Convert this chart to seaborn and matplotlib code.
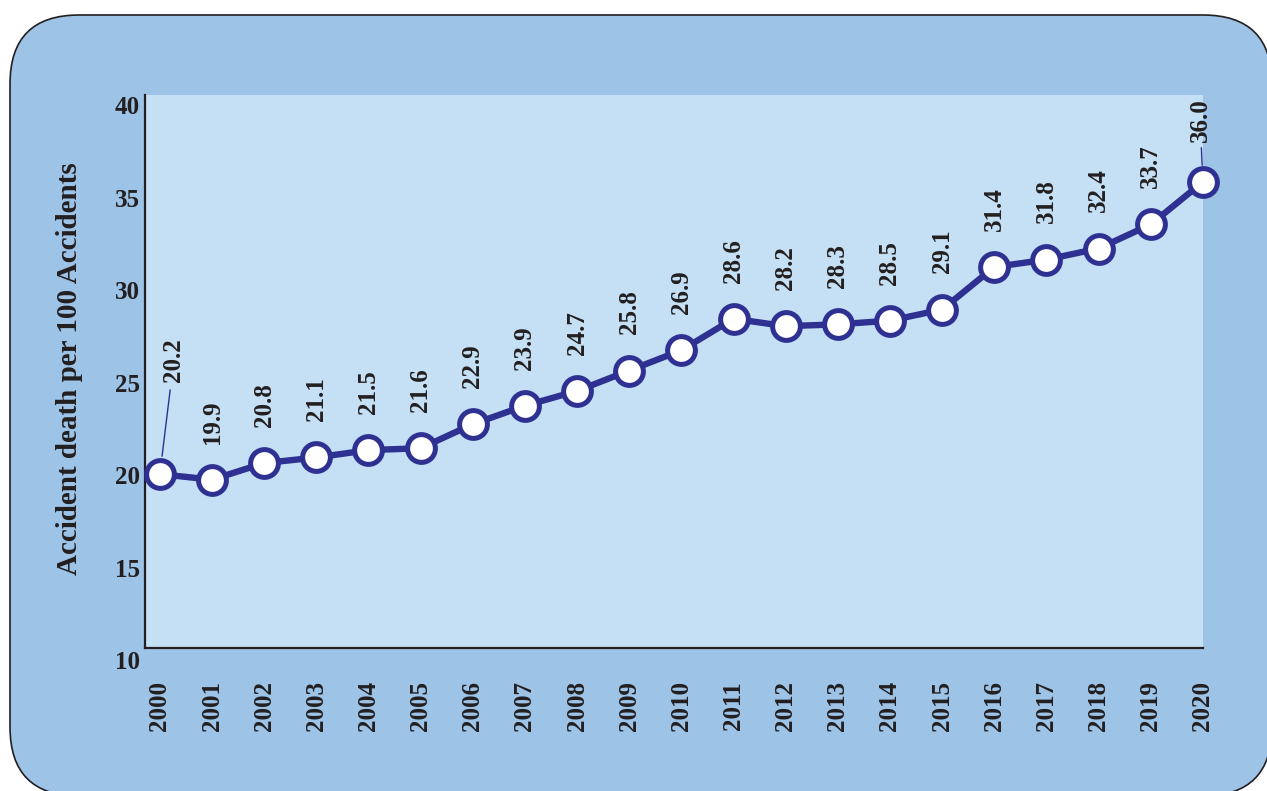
import matplotlib
matplotlib.use("Agg")
import matplotlib.pyplot as plt
import matplotlib.transforms as mtransforms
import pandas as pd
import seaborn as sns
from matplotlib.patches import FancyBboxPatch

years = list(range(2000, 2021))
deaths_per_100 = [20.2, 19.9, 20.8, 21.1, 21.5, 21.6, 22.9, 23.9, 24.7, 25.8, 26.9,
                  28.6, 28.2, 28.3, 28.5, 29.1, 31.4, 31.8, 32.4, 33.7, 36.0]
y_ticks = [10, 15, 20, 25, 30, 35, 40]
y_title = "Accident death per 100 Accidents"

OUTER_BG = "#9DC3E7"
PLOT_BG = "#C5E0F4"
LINE_COLOR = "#2E3192"
INK = "#231F20"


def main():
    sns.set_style("white")
    plt.rcParams["font.family"] = ["Liberation Serif", "DejaVu Serif"]
    plt.rcParams["font.weight"] = "bold"

    df = pd.DataFrame({"year": years, "value": deaths_per_100})

    fig = plt.figure(figsize=(12.67, 7.91), dpi=100)
    fig.patch.set_facecolor("white")

    # rounded panel behind everything
    panel = FancyBboxPatch((0.10, -0.05), 12.62, 7.81,
                           boxstyle="round,pad=0,rounding_size=0.69",
                           transform=fig.dpi_scale_trans, facecolor=OUTER_BG,
                           edgecolor=INK, linewidth=1.2, zorder=0)
    fig.add_artist(panel)

    ax = fig.add_axes([0.1144, 0.1808, 0.835, 0.6991])
    ax.set_facecolor(PLOT_BG)

    sns.lineplot(data=df, x="year", y="value", ax=ax, color=LINE_COLOR, linewidth=4.6,
                 marker="o", markersize=20, markerfacecolor="white",
                 markeredgecolor=LINE_COLOR, markeredgewidth=3.6, clip_on=False, zorder=5)

    ax.set_xlim(1999.714, 2019.905)
    ax.set_ylim(10.8, 40.7)

    for side in ["top", "right"]:
        ax.spines[side].set_visible(False)
    for side in ["left", "bottom"]:
        ax.spines[side].set_color(INK)
        ax.spines[side].set_linewidth(1.6)

    ax.set_xticks(years)
    ax.set_xticklabels([str(y) for y in years], rotation=90, fontsize=18,
                       fontweight="bold", color=INK)
    ax.tick_params(axis="x", length=0, pad=24)
    ax.set_xlabel("")

    # y tick labels drawn by hand: the "10" sits below the plotted area
    ax.set_yticks([])
    trans = mtransforms.blended_transform_factory(ax.transAxes, ax.transData)
    for t in y_ticks:
        ax.text(-0.0047, t, str(t), transform=trans, ha="right", va="center",
                fontsize=18, fontweight="bold", color=INK, clip_on=False)

    ax.set_ylabel(y_title, fontsize=21, fontweight="bold", color=INK)
    ax.yaxis.set_label_coords(-0.0586, 0.505)

    # value labels above each point
    for yr, val in zip(years, deaths_per_100):
        if yr == 2000:
            ax.annotate(f"{val:.1f}", xy=(yr, val), xytext=(10, 66),
                        textcoords="offset points", rotation=90, ha="center", va="bottom",
                        fontsize=18, fontweight="bold", color=INK,
                        arrowprops=dict(arrowstyle="-", color=LINE_COLOR, lw=1.0,
                                        shrinkA=3, shrinkB=13))
        elif yr == 2020:
            ax.annotate(f"{val:.1f}", xy=(yr, val), xytext=(-2, 29),
                        textcoords="offset points", rotation=90, ha="center", va="bottom",
                        fontsize=18, fontweight="bold", color=INK,
                        arrowprops=dict(arrowstyle="-", color=LINE_COLOR, lw=1.0,
                                        shrinkA=2, shrinkB=12))
        else:
            ax.annotate(f"{val:.1f}", xy=(yr, val), xytext=(0, 26),
                        textcoords="offset points", rotation=90, ha="center", va="bottom",
                        fontsize=18, fontweight="bold", color=INK)

    fig.savefig("out.png", dpi=100, facecolor=fig.get_facecolor())
    plt.close(fig)


if __name__ == "__main__":
    main()
